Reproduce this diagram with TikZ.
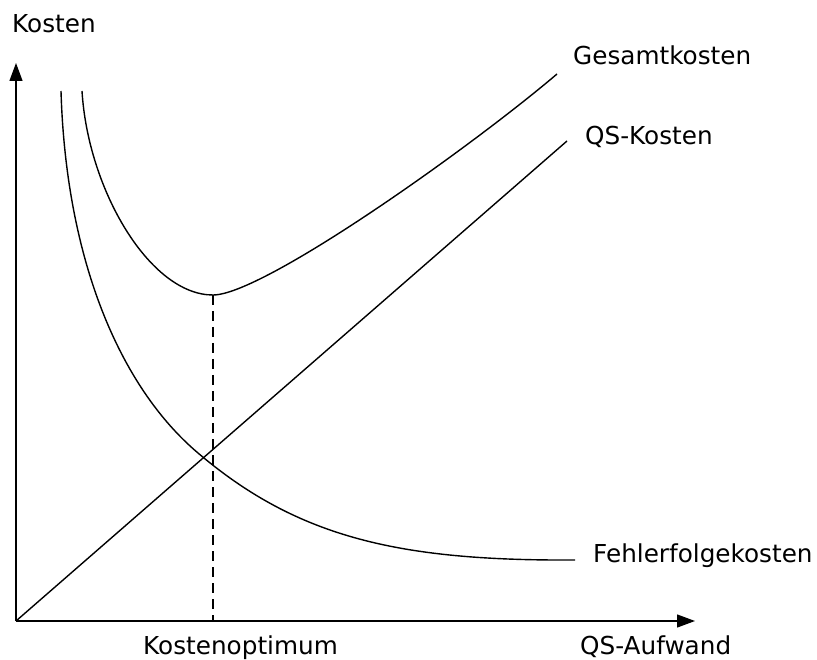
\documentclass[tikz,border=0pt]{standalone}
\usepackage{fontspec}
\setmainfont{DejaVu Sans}
\usetikzlibrary{arrows.meta}
\begin{document}
\begin{tikzpicture}[x=1pt,y=-1pt,
  axis/.style={line width=1.3pt,-{Triangle[length=18pt,width=13pt]}},
  curve/.style={line width=1.4pt},
  guide/.style={line width=1.2pt,dash pattern=on 10pt off 6pt},
  lbl/.style={anchor=base west,inner sep=0pt,font=\fontsize{24.7}{28}\selectfont}]
\useasboundingbox (0,0) rectangle (817,660);

% axes
\coordinate (O) at (16,621);
\coordinate (ytip) at (16,63);
\coordinate (xtip) at (695,621);
\draw[axis] (O) -- (ytip);
\draw[axis] (O) -- (xtip);

% labels
\node[lbl] (ylab) at (12,33) {Kosten};
\node[lbl] (xlab) at (580,654) {QS-Aufwand};
\node[lbl] (opt) at (143,654) {Kostenoptimum};
\node[lbl] (gesamt) at (573,65) {Gesamtkosten};
\node[lbl] (qs) at (585,145) {QS-Kosten};
\node[lbl] (fehler) at (593,562) {Fehlerfolgekosten};

% QS costs: straight line
\coordinate (qsend) at (567,141);
\draw[curve] (O) -- (qsend);

% failure costs
\coordinate (fstart) at (61,91);
\coordinate (fcross) at (198,453);
\coordinate (fend) at (575,560);
\draw[curve] (fstart) .. controls (66,260) and (120,387) .. (fcross)
  .. controls (298,538) and (400,561) .. (fend);

% total costs
\coordinate (gstart) at (82,91);
\coordinate (min) at (213,295);
\coordinate (gend) at (557,74);
\draw[curve] (gstart) .. controls (88,190) and (150,295) .. (min)
  .. controls (263,295) and (470,148) .. (gend);

% cost optimum
\coordinate (minfoot) at (213,621);
\draw[guide] (min) -- (minfoot);
\end{tikzpicture}
\end{document}
